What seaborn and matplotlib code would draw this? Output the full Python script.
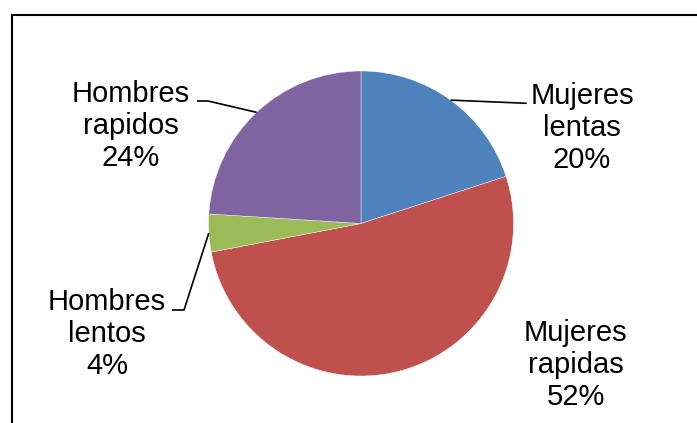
import numpy as np
import matplotlib
matplotlib.use("Agg")
import matplotlib.pyplot as plt
from matplotlib.lines import Line2D
import seaborn as sns

# Share of each group
categories = ["Mujeres lentas", "Mujeres rapidas", "Hombres lentos", "Hombres rapidos"]
label_lines = ["Mujeres\nlentas", "Mujeres\nrapidas", "Hombres\nlentos", "Hombres\nrapidos"]
shares = [20, 52, 4, 24]
colors = ["#4F81BD", "#C0504D", "#9BBB59", "#8064A2"]

sns.set_theme(style="white")
plt.rcParams["font.family"] = ["Liberation Sans", "DejaVu Sans"]

W, H = 697, 423
fig = plt.figure(figsize=(W / 100, H / 100), dpi=100)
ax = fig.add_axes([0, 0, 1, 1])

# pie centre / radius in pixels, converted to data units (radius = 1)
cx, cy, r_px = 361, 223.5, 152.5


def to_data(px, py):
    return (px - cx) / r_px, (cy - py) / r_px


wedges, _ = ax.pie(
    shares,
    colors=colors,
    startangle=90,
    counterclock=False,
    radius=1,
    center=(0, 0),
    frame=True,
    wedgeprops=dict(edgecolor="white", linewidth=0.3),
)
ax.set_xlim(-cx / r_px, (W - cx) / r_px)
ax.set_ylim(-(H - cy) / r_px, cy / r_px)
ax.set_aspect("auto")
ax.axis("off")

# label text centres and leader-line bends (pixels)
text_pos = [(582, 128), (575.5, 365), (107, 334), (131, 126)]
leader_pts = [
    [(526.7, 103.3)],
    None,
    [(184, 310), (172, 310)],
    [(208, 101), (197, 101)],
]

total = sum(shares)
for w, lab, val, tp, lp in zip(wedges, label_lines, shares, text_pos, leader_pts):
    pct = round(100 * val / total)
    tx, ty = to_data(*tp)
    ax.text(tx, ty, f"{lab}\n{pct}%", ha="center", va="center",
            fontsize=21, color="black", linespacing=1.17)
    if lp is not None:
        mid = np.deg2rad((w.theta1 + w.theta2) / 2)
        xs = [np.cos(mid)] + [to_data(*p)[0] for p in lp]
        ys = [np.sin(mid)] + [to_data(*p)[1] for p in lp]
        ax.plot(xs, ys, color="black", lw=1.2, solid_capstyle="butt")

# chart frame (left and top edges visible)
bx, by = 12 / W, 1 - 15 / H
fig.add_artist(Line2D([bx, bx], [-0.01, by], transform=fig.transFigure,
                      color="black", lw=1.5))
fig.add_artist(Line2D([bx, 1.01], [by, by], transform=fig.transFigure,
                      color="black", lw=1.5))

fig.savefig("out.png", dpi=100, facecolor="white")
